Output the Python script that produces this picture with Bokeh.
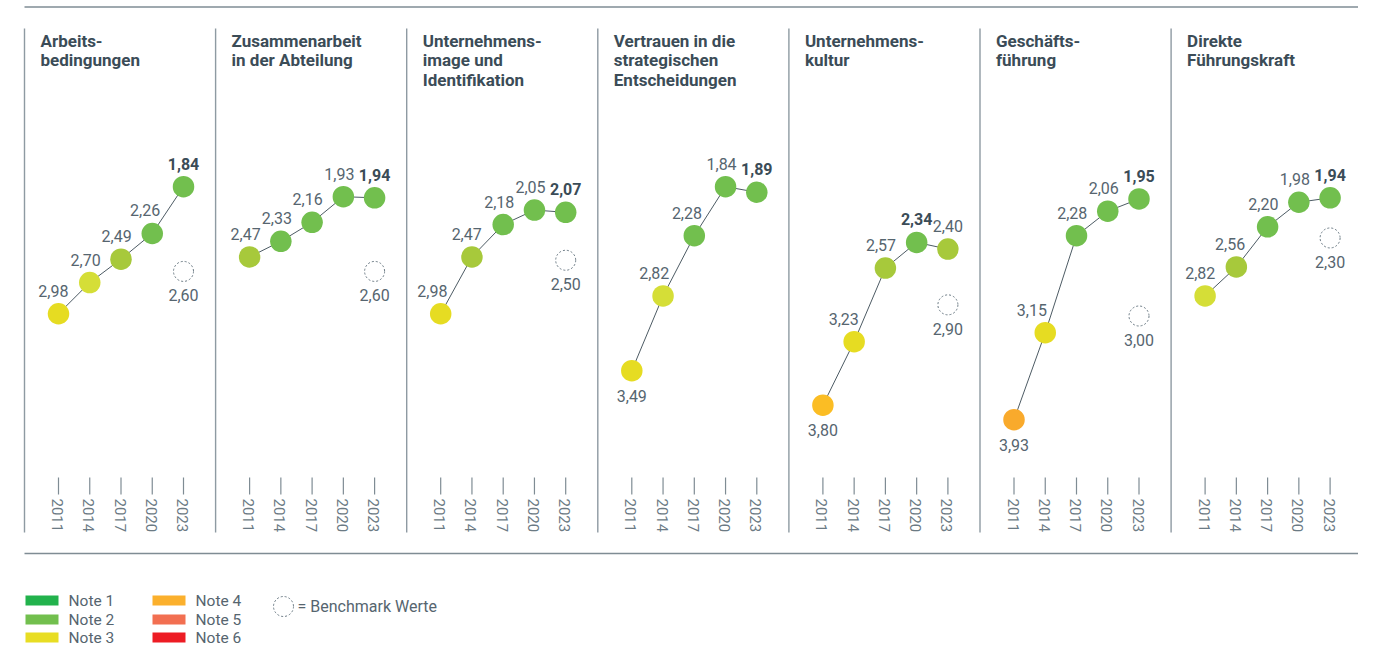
import numpy as np
from bokeh.plotting import figure
from bokeh.models import Range1d
from bokeh.core.properties import value
from bokeh.embed import file_html
from bokeh.resources import INLINE

# ---------------- data ----------------
titles = [
    ["Arbeits-", "bedingungen"],
    ["Zusammenarbeit", "in der Abteilung"],
    ["Unternehmens-", "image und", "Identifikation"],
    ["Vertrauen in die", "strategischen", "Entscheidungen"],
    ["Unternehmens-", "kultur"],
    ["Geschäfts-", "führung"],
    ["Direkte", "Führungskraft"],
]
years = [2011, 2014, 2017, 2020, 2023]
arbeitsbedingungen = [2.98, 2.70, 2.49, 2.26, 1.84]
zusammenarbeit = [2.47, 2.33, 2.16, 1.93, 1.94]
unternehmensimage = [2.98, 2.47, 2.18, 2.05, 2.07]
vertrauen = [3.49, 2.82, 2.28, 1.84, 1.89]
unternehmenskultur = [3.80, 3.23, 2.57, 2.34, 2.40]
geschaeftsfuehrung = [3.93, 3.15, 2.28, 2.06, 1.95]
fuehrungskraft = [2.82, 2.56, 2.20, 1.98, 1.94]
series = [arbeitsbedingungen, zusammenarbeit, unternehmensimage, vertrauen,
          unternehmenskultur, geschaeftsfuehrung, fuehrungskraft]
benchmark = [2.60, 2.60, 2.50, None, 2.90, 3.00, 2.30]
bold_index = [4, 4, 4, 4, 3, 4, 4]
first_label_below = [False, False, False, True, True, True, False]

legend_labels = ["Note 1", "Note 2", "Note 3", "Note 4", "Note 5", "Note 6"]
legend_colors = ["#22b24c", "#72bf4e", "#e8dd23", "#fbb02d", "#f26f51", "#ed1c24"]

# ---------------- style / layout ----------------
W, H = 1358, 646
PX_PER_UNIT = 111.5
Y_OFF = 19.0          # pixel row = PX_PER_UNIT * v - Y_OFF
PANEL_W = 191.1
PANEL0 = 24.0
DOT0 = 34.0
STEP = 31.25
FONT = value("Roboto")
TXT = "#56656f"
DARK = "#3b4c57"
LINEC = "#8e9aa2"


def vy(row):
    """convert a pixel row into the value scale used by the figure"""
    return (row + Y_OFF) / PX_PER_UNIT


def band_color(v):
    if v < 2.375:
        return "#72bf4e"
    if v < 2.625:
        return "#a7c93b"
    if v < 2.875:
        return "#d5de37"
    if v < 3.625:
        return "#e6dc22"
    if v < 3.875:
        return "#fbbd24"
    return "#f9aa2c"


def fmt(v):
    return f"{v:.2f}".replace(".", ",")


p = figure(width=W, height=H, output_backend="svg", toolbar_location=None,
           x_range=Range1d(0, W),
           y_range=Range1d(vy(H), vy(0)),
           min_border=0)
p.axis.visible = False
p.grid.visible = False
p.outline_line_color = None
p.background_fill_color = "white"

x_first = PANEL0
x_last = PANEL0 + 7 * PANEL_W

# top / bottom rules
p.segment(x0=[x_first], x1=[x_last], y0=[vy(6.5)], y1=[vy(6.5)], line_color="#7f8c94", line_width=1.4)
p.segment(x0=[x_first], x1=[x_last], y0=[vy(553)], y1=[vy(553)], line_color="#7f8c94", line_width=1.4)
# panel dividers
div_x = [PANEL0 + i * PANEL_W for i in range(8)]
p.segment(x0=div_x, x1=div_x, y0=[vy(28)] * 8, y1=[vy(532)] * 8, line_color=LINEC, line_width=1.4)

for i, vals in enumerate(series):
    left = PANEL0 + i * PANEL_W
    xs = [left + DOT0 + STEP * (y - years[0]) / 3 for y in years]

    # title
    for k, line in enumerate(titles[i]):
        p.text(x=[left + 16], y=[vy(40 + 19.7 * k)], text=[line], text_font=FONT,
               text_font_size="17px", text_font_style="bold", text_color=DARK,
               text_baseline="middle", text_align="left")

    # connecting line
    p.line(x=xs, y=vals, line_color="#4d5b64", line_width=1)
    # dots
    p.scatter(x=xs, y=vals, size=21.5, fill_color=[band_color(v) for v in vals],
              line_color=None)

    # value labels
    for j, v in enumerate(vals):
        bold = (j == bold_index[i])
        below = (j == 0 and first_label_below[i])
        if bold or below or j == 4:
            xo = 0
        else:
            drop = vals[j] - vals[j + 1]
            xo = -4 - 14 * max(0.0, drop - 0.2)
        p.text(x=[xs[j]], y=[v], text=[fmt(v)], text_font=FONT,
               text_font_size="16px", text_font_style="bold" if bold else "normal",
               text_color=DARK if bold else TXT, text_align="center",
               text_baseline="middle", x_offset=xo, y_offset=25 if below else -23)

    # benchmark
    b = benchmark[i]
    if b is not None:
        p.scatter(x=[xs[4]], y=[b], size=20, fill_color=None, line_color="#6b7a84",
                  line_dash="2 2", line_width=1)
        p.text(x=[xs[4]], y=[b], text=[fmt(b)], text_font=FONT, text_font_size="16px",
               text_color=TXT, text_align="center", text_baseline="middle", y_offset=24)

    # year ticks and labels
    p.segment(x0=xs, x1=xs, y0=[vy(477)] * 5, y1=[vy(494)] * 5, line_color="#7f8c94", line_width=1.2)
    p.text(x=[x - 1 for x in xs], y=[vy(498)] * 5, text=[str(y) for y in years], text_font=FONT,
           text_font_size="15px", text_color="#6b7a84", angle=-np.pi / 2,
           text_align="left", text_baseline="middle")

# legend
leg_x = [25, 25, 25, 152, 152, 152]
leg_y = [600, 619, 637, 600, 619, 637]
for lx, ly, lab, col in zip(leg_x, leg_y, legend_labels, legend_colors):
    p.quad(left=[lx], right=[lx + 33], bottom=[vy(ly + 5)], top=[vy(ly - 5)],
           fill_color=col, line_color=None)
    p.text(x=[lx + 43], y=[vy(ly)], text=[lab], text_font=FONT, text_font_size="15.5px",
           text_color=TXT, text_align="left", text_baseline="middle")
p.scatter(x=[283], y=[vy(606)], size=20, fill_color=None, line_color="#6b7a84",
          line_dash="2 2", line_width=1)
p.text(x=[297], y=[vy(606)], text=["= Benchmark Werte"], text_font=FONT,
       text_font_size="16px", text_color=TXT, text_align="left", text_baseline="middle")

open("out.html", "w").write(file_html(p, INLINE))
